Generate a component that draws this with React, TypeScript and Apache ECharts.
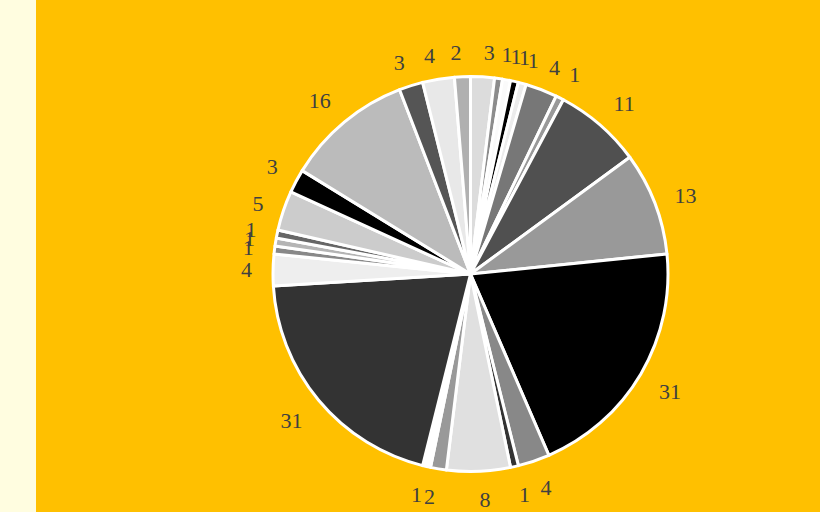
import React, { useEffect, useRef } from "react";
import * as echarts from "echarts";

const categories = [
  "S1", "S2", "S3", "S4", "S5", "S6", "S7", "S8", "S9", "S10", "S11", "S12", "S13",
  "S14", "S15", "S16", "S17", "S18", "S19", "S20", "S21", "S22", "S23", "S24", "S25", "S26",
];
const values = [3, 1, 1, 1, 1, 4, 1, 11, 13, 31, 4, 1, 8, 2, 1, 31, 4, 1, 1, 1, 5, 3, 16, 3, 4, 2];
const colors = [
  "#dcdcdc", "#8c8c8c", "#fafafa", "#000000", "#ececec", "#777777", "#999999", "#505050",
  "#999999", "#000000", "#888888", "#333333", "#e0e0e0", "#999999", "#ffffff", "#333333",
  "#eeeeee", "#888888", "#b4b4b4", "#666666", "#cccccc", "#000000", "#bbbbbb", "#555555",
  "#e8e8e8", "#b0b0b0",
];

export default function App() {
  const ref = useRef<HTMLDivElement>(null);
  useEffect(() => {
    if (!ref.current) return;
    const chart = echarts.init(ref.current, null, { renderer: "svg" });
    const total = values.reduce((a, b) => a + b, 0);
    let acc = 0;
    const tokens: string[] = [];
    const data = categories.map((n, i) => {
      const mid = ((acc + values[i] / 2) / total) * Math.PI * 2;
      acc += values[i];
      const c = Math.cos(mid);
      tokens.push(c < -0.4 ? "lo" : c > 0.9 ? "top" : c > 0.4 ? "hi" : "md");
      return { name: n, value: values[i], itemStyle: { color: colors[i] } };
    });
    const font = { color: "#404040", fontFamily: "Liberation Serif", fontSize: 22 };
    chart.setOption({
      animation: false,
      backgroundColor: "#FFC000",
      series: [
        {
          type: "pie",
          center: [434.5, 274],
          radius: 197.5,
          startAngle: 90,
          clockwise: true,
          avoidLabelOverlap: false,
          labelLayout: { hideOverlap: false },
          silent: true,
          itemStyle: { borderColor: "#ffffff", borderWidth: 3 },
          label: {
            show: true,
            position: "outside",
            formatter: (p: any) => `{${tokens[p.dataIndex]}|${p.value}}`,
            ...font,
            distanceToLabelLine: 0,
            rich: {
              lo: { ...font, padding: [14, 0, 0, 0] },
              hi: { ...font, padding: [0, 0, 10, 0] },
              top: { ...font, padding: [0, 0, 6, 0] },
              md: { ...font },
            },
          },
          labelLine: { show: false, length: 21, length2: 0 },
          data,
        },
      ],
    });
    return () => chart.dispose();
  }, []);
  return (
    <div style={{ position: "absolute", left: 0, top: 0, width: 820, height: 512, background: "#FFFDE0" }}>
      <div ref={ref} style={{ position: "absolute", left: 36, top: 0, width: 784, height: 512 }} />
    </div>
  );
}
